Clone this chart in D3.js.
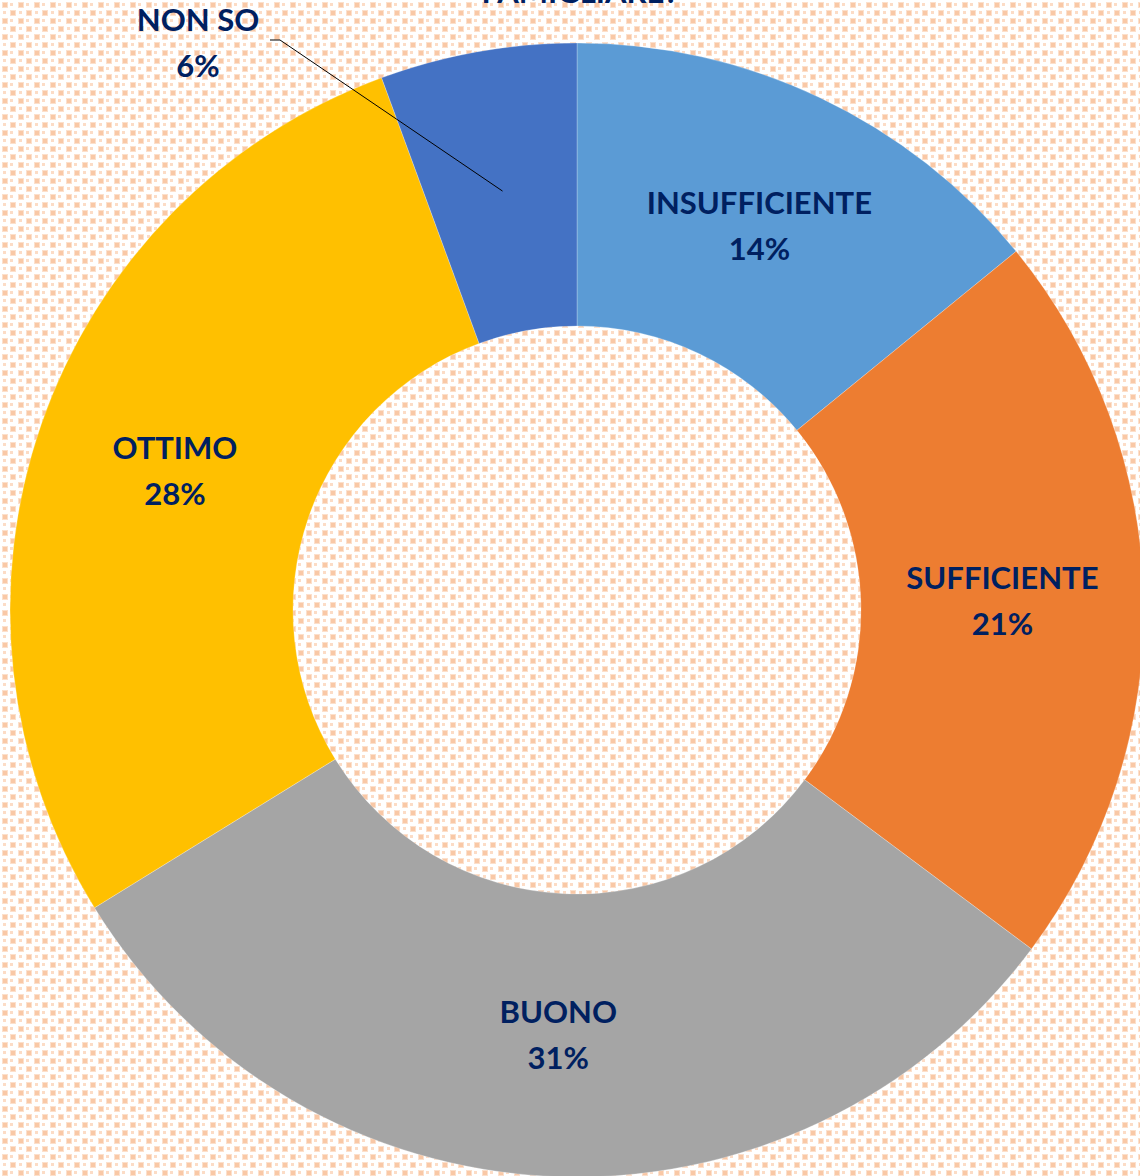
<!DOCTYPE html>
<html><head><meta charset="utf-8">
<script src="https://cdn.jsdelivr.net/npm/d3@7"></script>
<style>html,body{margin:0;padding:0;background:#fff;}svg{display:block;}</style>
</head><body>
<script>
const categories = ["INSUFFICIENTE","SUFFICIENTE","BUONO","OTTIMO","NON SO"];
const values = [14.1, 21.1, 31.0, 28.2, 5.6];
const colors = ["#5B9BD5","#ED7D31","#A5A5A5","#FFC000","#4472C4"];
const titleText = "FAMIGLIARE?";

const W = 1140, H = 1176;
const cx = 577, cy = 610, rOuter = 567, rInner = 284;

const svg = d3.select("body").append("svg").attr("width", W).attr("height", H);
const defs = svg.append("defs");
const pat = defs.append("pattern").attr("id","bgpat").attr("patternUnits","userSpaceOnUse")
  .attr("width",16).attr("height",16);
pat.append("rect").attr("width",16).attr("height",16).attr("fill","#fff");
[[2,2],[10,10]].forEach(([x,y])=>{
  pat.append("rect").attr("x",x).attr("y",y).attr("width",6).attr("height",6).attr("fill","#FCE0CC");
  pat.append("rect").attr("x",x+1).attr("y",y+1).attr("width",4).attr("height",4).attr("fill","#F9C8A6");
});
[[10,3],[3,11]].forEach(([x,y])=>{
  pat.append("rect").attr("x",x).attr("y",y).attr("width",3).attr("height",3).attr("fill","#FCDCC6");
});
svg.append("rect").attr("width",W).attr("height",H).attr("fill","url(#bgpat)");

// partially visible title (cut off at the top edge, as in the reference)
svg.append("text").attr("x", 580).attr("y", 3).attr("text-anchor","middle")
  .attr("font-family","Lato, 'Open Sans', sans-serif").attr("font-weight","bold")
  .attr("font-size", 31).attr("fill","#002060").text(titleText);

const data = categories.map((c,i)=>({cat:c, value:values[i], color:colors[i]}));
const pie = d3.pie().value(d=>d.value).sort(null);
const arcs = pie(data);
const arc = d3.arc().innerRadius(rInner).outerRadius(rOuter);
const labelArc = d3.arc().innerRadius(rInner).outerRadius(rOuter);

const g = svg.append("g").attr("transform",`translate(${cx},${cy})`);
g.selectAll("path").data(arcs).join("path")
  .attr("d", arc).attr("fill", d=>d.data.color)
  .attr("stroke","#fff").attr("stroke-opacity",0.5).attr("stroke-width",0.5);

const fontFam = "Lato, 'Open Sans', sans-serif";
arcs.forEach((a,i)=>{
  const [x,y] = labelArc.centroid(a);
  let lx = x, ly = y;
  if (a.data.cat === "NON SO") {
    lx = 198 - cx; ly = 43 - cy;
    g.append("path")
      .attr("d", `M${270-cx},${40-cy} L${280-cx},${40-cy} L${x},${y}`)
      .attr("fill","none").attr("stroke","#000").attr("stroke-width",1);
  }
  const t = g.append("text").attr("text-anchor","middle")
    .attr("font-family", fontFam).attr("font-weight","bold")
    .attr("font-size", 31).attr("fill","#002060");
  t.append("tspan").attr("x", lx).attr("y", ly - 12).text(a.data.cat);
  t.append("tspan").attr("x", lx).attr("y", ly + 34).text(Math.round(a.data.value) + "%");
});
</script>
</body></html>
